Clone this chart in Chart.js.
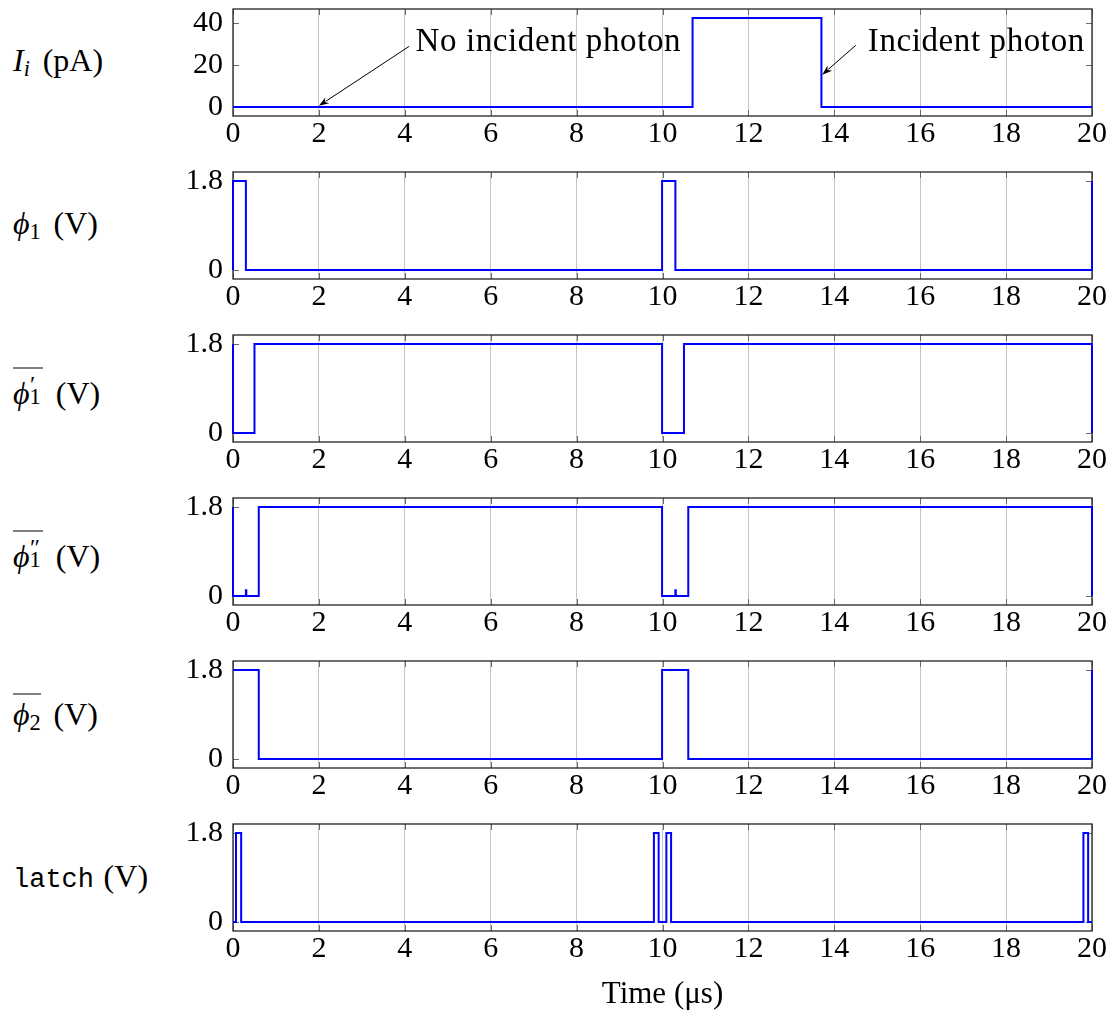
<!DOCTYPE html>
<html>
<head>
<meta charset="utf-8">
<script src="https://cdn.jsdelivr.net/npm/chart.js@4.4.1/dist/chart.umd.min.js"></script>
<style>
body { margin: 0; background: #fff; }
#wrap { position: relative; width: 1114px; height: 1017px; }
#wrap canvas { position: absolute; left: 0; }
.lab { position: absolute; left: 13px; font: 32px "Liberation Serif", serif; color: #000; transform: translateY(-50%); white-space: nowrap; line-height: 1; }
.lab sub { font-size: 0.7em; vertical-align: -0.25em; }
.u { margin-left: 0.4em; }
.ov { display: inline-block; border-top: 1.5px solid #000; padding-top: 3px; line-height: 1; }
.ss { display: inline-block; position: relative; width: 0.42em; height: 1em; }
.ss .sp { position: absolute; left: 0.02em; top: -0.02em; font-size: 0.75em; line-height: 1; }
.ss .sb { position: absolute; left: 0; top: 0.62em; font-size: 0.7em; line-height: 1; }
.tt { font-family: "Liberation Mono", monospace; font-size: 27px; }
</style>
</head>
<body>
<div id="wrap">
  <div class="lab" style="top:62px"><i>I<sub>i</sub></i><span class="u">(pA)</span></div>
  <div class="lab" style="top:225px"><i>ϕ</i><sub>1</sub><span class="u">(V)</span></div>
  <div class="lab" style="top:388px"><span class="ov"><i>ϕ</i><span class="ss"><span class="sp">′</span><span class="sb">1</span></span></span><span class="u">(V)</span></div>
  <div class="lab" style="top:551px"><span class="ov"><i>ϕ</i><span class="ss"><span class="sp">″</span><span class="sb">1</span></span></span><span class="u">(V)</span></div>
  <div class="lab" style="top:714px"><span class="ov"><i>ϕ</i><sub>2</sub></span><span class="u">(V)</span></div>
  <div class="lab" style="top:877px"><span class="tt">latch</span><span class="u" style="margin-left:0.3em">(V)</span></div>
</div>
<script>
// tick values
var timeTicks = [0, 2, 4, 6, 8, 10, 12, 14, 16, 18, 20];
var currentTicks = [0, 20, 40];
var voltTicks = [0, 1.8];

// step waveforms (value holds until the next time)
var iTime = [0, 10.7, 13.7, 20];
var iVal  = [0, 42.6, 0, 0];

var phi1Time = [0, 0, 0.3, 9.99, 10.3, 20];
var phi1Val  = [0, 1.8, 0, 1.8, 0, 1.8];

var phi1pTime = [0, 0, 0.5, 9.99, 10.5, 20];
var phi1pVal  = [1.8, 0, 1.8, 0, 1.8, 0];

var phi1ppTime = [0, 0, 0.3, 0.31, 0.6, 9.99, 10.3, 10.31, 10.6, 20];
var phi1ppVal  = [1.8, 0, 0.12, 0, 1.8, 0, 0.12, 0, 1.8, 0];

var phi2Time = [0, 0.6, 9.99, 10.6, 20];
var phi2Val  = [1.8, 0, 1.8, 0, 1.8];

var latchTime = [0, 0.07, 0.19, 9.8, 9.91, 10.09, 10.2, 19.8, 19.91, 20];
var latchVal  = [0, 1.8, 0, 1.8, 0, 1.8, 0, 1.8, 0, 0];

// annotations on the current plot
var noteText = ['No incident photon', 'Incident photon'];
var noteX = [4.25, 14.78];
var noteY = [30.8, 30.8];
var tailX = [4.1, 14.5];
var tailY = [29, 29.5];
var tipX  = [2.0, 13.72];
var tipY  = [0.6, 15.5];

var serif = '"Liberation Serif", serif';
var panelGap = 163, plotTop = 9, plotH = 107;

var framePlugin = {
	id: 'frame',
	beforeDatasetsDraw: function(chart) {
		var ctx = chart.ctx, a = chart.chartArea, sx = chart.scales.x, sy = chart.scales.y;
		ctx.save();
		ctx.strokeStyle = '#6a6a6a';
		ctx.lineWidth = 1;
		ctx.beginPath();
		sx.ticks.forEach(function(t) {
			var px = Math.round(sx.getPixelForValue(t.value)) + 0.5;
			ctx.moveTo(px, a.bottom); ctx.lineTo(px, a.bottom - 6);
			ctx.moveTo(px, a.top); ctx.lineTo(px, a.top + 6);
		});
		sy.ticks.forEach(function(t) {
			var py = Math.round(sy.getPixelForValue(t.value)) + 0.5;
			ctx.moveTo(a.left, py); ctx.lineTo(a.left + 6, py);
			ctx.moveTo(a.right, py); ctx.lineTo(a.right - 6, py);
		});
		ctx.stroke();
		ctx.strokeStyle = '#222';
		ctx.lineWidth = 1.3;
		ctx.strokeRect(a.left, a.top, a.right - a.left, a.bottom - a.top);
		ctx.restore();
	}
};

function drawArrow(ctx, x0, y0, x1, y1) {
	var ang = Math.atan2(y1 - y0, x1 - x0), L = 10, W = 3.5;
	ctx.beginPath();
	ctx.moveTo(x0, y0);
	ctx.lineTo(x1 - L * Math.cos(ang) * 0.8, y1 - L * Math.sin(ang) * 0.8);
	ctx.stroke();
	ctx.beginPath();
	ctx.moveTo(x1, y1);
	ctx.lineTo(x1 - L * Math.cos(ang) + W * Math.sin(ang), y1 - L * Math.sin(ang) - W * Math.cos(ang));
	ctx.lineTo(x1 - L * Math.cos(ang) * 0.7, y1 - L * Math.sin(ang) * 0.7);
	ctx.lineTo(x1 - L * Math.cos(ang) - W * Math.sin(ang), y1 - L * Math.sin(ang) + W * Math.cos(ang));
	ctx.closePath();
	ctx.fill();
}

var notePlugin = {
	id: 'notes',
	afterDraw: function(chart) {
		var ctx = chart.ctx, sx = chart.scales.x, sy = chart.scales.y;
		ctx.save();
		ctx.font = '33px ' + serif;
		ctx.letterSpacing = '0.6px';
		ctx.fillStyle = '#000';
		ctx.strokeStyle = '#000';
		ctx.lineWidth = 1;
		ctx.textBaseline = 'middle';
		for (var k = 0; k < noteText.length; k++) {
			ctx.fillText(noteText[k], sx.getPixelForValue(noteX[k]), sy.getPixelForValue(noteY[k]));
			drawArrow(ctx, sx.getPixelForValue(tailX[k]), sy.getPixelForValue(tailY[k]),
				sx.getPixelForValue(tipX[k]), sy.getPixelForValue(tipY[k]));
		}
		ctx.restore();
	}
};

function makePanel(idx, times, values, yMin, yMax, yTicks, last) {
	var h = last ? 1017 - panelGap * idx : panelGap;
	var canvas = document.createElement('canvas');
	canvas.width = 1114;
	canvas.height = h;
	canvas.style.top = (panelGap * idx) + 'px';
	document.getElementById('wrap').appendChild(canvas);

	var pts = times.map(function(t, k) { return { x: t, y: values[k] }; });
	var plugins = [framePlugin];
	if (idx === 0) plugins.push(notePlugin);

	return new Chart(canvas.getContext('2d'), {
		type: 'line',
		data: {
			datasets: [{
				data: pts,
				borderColor: '#0000ff',
				borderWidth: 2,
				stepped: true,
				pointRadius: 0,
				fill: false,
				clip: 4
			}]
		},
		plugins: plugins,
		options: {
			animation: false,
			responsive: false,
			devicePixelRatio: 1,
			layout: { padding: { top: plotTop, left: 173, right: 22, bottom: 0 } },
			plugins: { legend: { display: false }, tooltip: { enabled: false } },
			scales: {
				x: {
					type: 'linear',
					min: 0,
					max: 20,
					afterBuildTicks: function(s) { s.ticks = timeTicks.map(function(v) { return { value: v }; }); },
					ticks: { color: '#000', font: { family: serif, size: 30 }, padding: 0, maxRotation: 0, autoSkip: false },
					grid: { color: '#c4c4c4', lineWidth: 1, drawTicks: false },
					border: { display: false },
					title: {
						display: !!last,
						text: 'Time (μs)',
						color: '#000',
						font: { family: serif, size: 31 },
						padding: { top: 4 }
					},
					afterFit: function(s) { s.height = h - plotTop - plotH; s.paddingLeft = 0; s.paddingRight = 0; }
				},
				y: {
					min: yMin,
					max: yMax,
					afterBuildTicks: function(s) { s.ticks = yTicks.map(function(v) { return { value: v }; }); },
					ticks: { color: '#000', font: { family: serif, size: 30 }, padding: 10, callback: function(v) { return String(v); } },
					grid: { display: false, drawTicks: false },
					border: { display: false },
					afterFit: function(s) { s.width = 60; s.paddingTop = 0; s.paddingBottom = 0; }
				}
			}
		}
	});
}

makePanel(0, iTime, iVal, -4.26, 46.86, currentTicks, false);
makePanel(1, phi1Time, phi1Val, -0.18, 1.98, voltTicks, false);
makePanel(2, phi1pTime, phi1pVal, -0.18, 1.98, voltTicks, false);
makePanel(3, phi1ppTime, phi1ppVal, -0.18, 1.98, voltTicks, false);
makePanel(4, phi2Time, phi2Val, -0.18, 1.98, voltTicks, false);
makePanel(5, latchTime, latchVal, -0.18, 1.98, voltTicks, true);
</script>
</body>
</html>
